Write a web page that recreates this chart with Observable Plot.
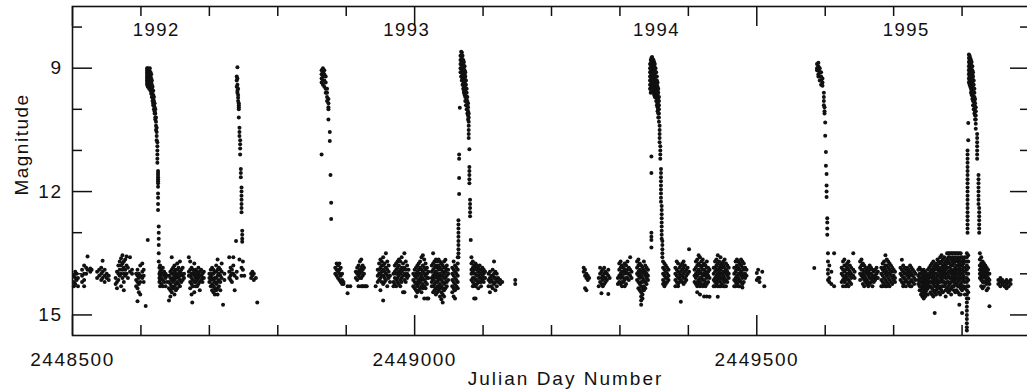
<!DOCTYPE html>
<html><head><meta charset="utf-8">
<script src="https://cdn.jsdelivr.net/npm/d3@7"></script>
<script src="https://cdn.jsdelivr.net/npm/@observablehq/plot@0.6"></script>
<style>
html,body{margin:0;padding:0;background:#fff;overflow:hidden}
#chart svg{display:block}
</style></head><body><div id="chart"></div>
<script>
// Julian Day offset: each row is [JD - JD0, magnitude, magnitude, ...]
const JD0 = 2448500;

const season1 = [
[2,14.05,14.2,14.3],[4,13.95,14.1,14.25],[6,14.0,14.15],[8,14.3,14.1],
[14,13.9,14.05,14.2],[17,13.8,14.0,14.15,14.3],[20,13.85,14.0],[22,13.58,13.9],[26,13.87,13.95],[28,13.9],
[36,13.95,14.1],[39,13.9,14.05],[42,13.85,14.0,14.15],[44,13.68,13.95,14.1],[47,13.9,14.05,14.2],[50,14.0,14.1],[53,14.05,14.15],
[63,14.1,14.25],[65,13.95,14.2,14.35],[67,13.8,14.0,14.15],[69,13.7,13.9,14.05],[71,13.62,13.8,14.0,14.3],
[73,13.55,13.75,13.9,14.1],[75,13.7,13.85,14.0,14.2,14.4],[77,13.65,13.9,14.05],[79,13.58,13.8,14.0],[81,13.85,14.1],[84,13.6,13.95],[87,13.9,14.0],
[93,14.0,14.15,14.3],[95,13.9,14.05,14.2,14.35,14.67],[97,14.0,14.1,14.25,14.45],[99,13.8,14.05,14.2,14.5],[102,13.75,13.95,14.1],[104,13.9,14.05,14.2],[107,14.78],[110,13.18],
[109,9.0,9.05,9.1,9.15,9.2,9.25,9.3,9.35,9.4],[110,9.0,9.08,9.15,9.22,9.3,9.38,9.45],[111,9.02,9.1,9.18,9.25,9.33,9.4],
[112,9.05,9.12,9.2,9.28,9.35,9.42,9.5],[113,9.0,9.1,9.2,9.3,9.4,9.48],[114,9.1,9.2,9.3,9.4,9.5,9.55],
[115,9.15,9.25,9.35,9.45,9.55,9.62],[116,9.3,9.4,9.5,9.6,9.7],[117,9.45,9.55,9.65,9.72,9.8],[118,9.55,9.65,9.75,9.85,9.9],
[119,9.7,9.8,9.9,10.0],[120,9.85,9.95,10.05,10.1],[121,10.0,10.1,10.2,10.25],[122,10.2,10.3,10.4,10.5],[123,10.45,10.55,10.65,10.75],
[124,10.8,10.9,11.0,11.1,11.2,11.3],[125,11.5,11.55,11.6,11.65,11.7,11.75,11.8,11.88,12.05,12.15,12.3,12.45],[126,12.85,13.0,13.15,13.3,13.5,13.7],
[127,13.85,14.0,14.1,14.2],[128,13.8,13.95,14.05,14.15,14.3],[130,13.9,14.0,14.1,14.25],[132,13.85,14.0,14.15,14.3],[134,13.95,14.05,14.2],[136,14.0,14.1,14.3],[138,14.05,14.2],
[141,14.05,14.2,14.35,14.65],[143,13.95,14.1,14.25,14.4,14.55],[145,13.6,13.9,14.0,14.15,14.3,14.45],[147,13.85,14.0,14.1,14.2,14.35],
[149,13.8,13.95,14.05,14.15,14.3,14.5],[151,13.9,14.0,14.1,14.25,14.4],[153,13.75,13.9,14.05,14.2,14.35],[155,13.85,14.0,14.1,14.25],
[157,13.7,13.95,14.05,14.15,14.3],[159,13.9,14.0,14.2],[161,13.85,14.05,14.15],[163,14.0,14.1],
[170,13.6,13.95,14.05],[172,13.7,13.9,14.05,14.2,14.35],[174,13.85,14.0,14.1,14.25,14.5],[175,14.7],[176,13.9,14.0,14.15,14.3],
[178,13.75,13.95,14.05,14.2,14.45],[180,13.9,14.0,14.1,14.2,14.3],[182,13.95,14.05,14.15,14.3],[184,13.85,14.0,14.1,14.25],
[186,13.95,14.05,14.2,14.4],[188,13.9,14.05,14.15],[190,14.0,14.1,14.2],[192,13.95,14.1],
[200,14.0,14.1,14.2],[202,13.9,14.05,14.15,14.3],[204,13.85,14.0,14.1,14.25,14.4],[206,13.9,14.0,14.15,14.3,14.45],
[208,13.95,14.1,14.2,14.35,14.5],[210,13.8,13.95,14.1,14.25,14.4],[212,13.65,13.9,14.05,14.2,14.35,14.5],[214,13.85,14.0,14.15,14.3],
[216,13.9,14.05,14.2,14.4],[218,13.75,13.95,14.1],[220,14.75],[222,14.0,14.15],
[229,13.6,13.95,14.1],[231,13.85,14.05,14.15],[233,13.9,14.0,14.2],[235,13.6,13.8,14.0],[237,14.05,14.4],[239,13.2],
[240,9.2,9.3,9.45,13.95,14.1],[241,8.98,9.25,9.4,9.55,9.6],[242,9.5,9.65,9.72,9.8],[243,9.85,9.9,9.95,10.0,10.2],
[244,10.45,10.55,10.65,13.65],[245,10.75,10.85,10.95,11.1],[246,11.45,11.55,11.65],[247,11.9,12.0,12.1,12.2,12.3,12.4,12.5,13.85,14.05],
[248,12.95,13.05,13.15,13.22],[249,13.7,13.9],[251,14.05],
[261,14.0,14.1],[263,13.95,14.05],[265,14.0,14.15],[268,14.1],[270,14.7]
];

const season2 = [
[364,9.05,9.15,9.25,9.35,11.1],[366,9.0,9.1,9.2,9.3,9.4],[368,9.05,9.15,9.3,9.45],[370,9.2,9.35,9.5,9.6],
[372,9.5,9.6,9.7,9.8],[374,9.75,9.85,9.95,10.0,10.25],[376,10.55,10.77],[377,11.6],[378,12.27,12.67],
[384,13.85,14.0],[386,13.75,13.9,14.05],[388,13.8,13.95,14.1],[390,13.75,13.9,14.0,14.15],[392,13.85,14.05,14.2],
[394,14.0,14.15,14.25],[396,14.2,14.25],[402,14.3,14.47],[406,14.3],
[414,13.95,14.1],[416,13.85,14.0,14.15],[418,13.8,13.95,14.05,14.3],[420,13.7,13.9,14.0,14.1],[422,13.65,13.85,13.95,14.1,14.3],
[424,13.8,13.9,14.05,14.3],[426,13.85,14.0,14.3],[428,14.3],[430,14.3],
[443,14.3],[446,13.9,14.05,14.2],[448,13.75,13.9,14.0,14.15],[450,13.65,13.85,14.0,14.1,14.4],[452,13.7,13.8,13.95,14.05,14.2],
[454,13.6,13.8,13.9,14.05,14.25,14.65],[456,13.75,13.95,14.1,14.2],[458,13.5,13.85,14.0,14.15],[460,13.7,13.9,14.05,14.3],
[462,13.8,13.95,14.1],[464,14.05,14.2],
[469,14.0,14.2,14.3],[471,13.8,13.95,14.1,14.25],[473,13.75,13.9,14.0,14.15,14.3],[475,13.7,13.85,14.0,14.1,14.2],
[477,13.65,13.8,13.95,14.05,14.25],[479,13.7,13.9,14.0,14.15,14.3],[481,13.6,13.85,13.95,14.1,14.2],[483,13.75,13.9,14.05,14.45],
[485,13.5,13.85,14.0,14.15,14.45],[487,13.7,13.9,14.05,14.2],[489,13.8,14.0,14.1],[491,13.9,14.05],
[498,14.0,14.15,14.3],[500,13.9,14.05,14.2,14.35],[502,13.85,14.0,14.1,14.25,14.4,14.55],[504,13.8,13.95,14.05,14.2,14.3,14.45],
[506,13.75,13.9,14.0,14.15,14.25,14.4],[508,13.7,13.85,14.0,14.1,14.2,14.35],[510,13.6,13.9,14.05,14.15,14.3,14.45],
[512,13.55,13.8,13.95,14.1,14.25,14.35],[514,13.65,13.85,14.0,14.15,14.3,14.6],[516,13.75,13.9,14.05,14.2,14.35],
[518,13.85,14.0,14.1,14.25,14.6],[520,13.95,14.1,14.6],
[525,13.8,13.95,14.1,14.2,14.3],[527,13.5,13.75,13.9,14.05,14.15,14.3,14.45],[529,13.7,13.85,14.0,14.1,14.25,14.4],
[531,13.65,13.8,13.95,14.05,14.2,14.35,14.5],[533,13.7,13.85,14.0,14.1,14.2,14.3,14.45],[535,13.65,13.8,13.9,14.05,14.15,14.3,14.4],
[537,13.7,13.85,14.0,14.1,14.25,14.35,14.55],[539,13.75,13.9,14.05,14.15,14.3,14.45,14.62],[541,13.8,13.95,14.05,14.2,14.35,14.5,14.7],
[543,13.7,13.85,14.0,14.1,14.25,14.4,14.55],[545,13.66,13.85,13.95,14.1,14.2,14.35],[547,13.8,13.9,14.05,14.2,14.3],[549,13.9,14.0,14.15],
[555,13.85,14.0,14.15,14.3,14.45],[557,13.7,13.9,14.05,14.2,14.35,14.55],[559,13.8,13.95,14.1,14.25,14.4,14.6],
[561,13.85,14.0,14.15,14.3],[563,13.6,13.75,13.9,14.05,14.2,14.35],
[564,12.7,12.8,12.9,13.0,13.1,13.2,13.3,13.4,13.5,13.6],[565,11.1,11.2,11.67,12.06],[566,9.96],
[567,8.7,8.8,8.9,9.0,9.1],[568,8.6,8.7,8.8,8.9,9.0,9.1,9.2],[569,8.62,8.72,8.82,8.92,9.02,9.12,9.22,9.3],
[570,8.7,8.8,8.9,9.0,9.1,9.2,9.3,9.4],[571,8.8,8.9,9.0,9.1,9.2,9.3,9.4,9.5],[572,8.85,8.95,9.05,9.15,9.25,9.35,9.45,9.55,9.6],
[573,8.95,9.05,9.15,9.25,9.35,9.45,9.55,9.65],[574,9.1,9.2,9.3,9.4,9.5,9.6,9.7,9.8],[575,9.3,9.4,9.5,9.6,9.7,9.8,9.9],
[576,9.5,9.6,9.7,9.8,9.9,10.0],[577,9.7,9.8,9.9,10.0,10.1],[578,9.85,9.95,10.05,10.15,10.25],[579,10.1,10.2,10.3,10.4,10.5,10.6,10.7],
[580,10.97,11.4,11.5,11.6,11.7,11.8],[581,12.2,12.3,12.4,12.5,12.6],[582,13.18],
[583,13.6,13.75,13.9,14.0,14.15],[585,13.7,13.85,13.95,14.1,14.2,14.3],[587,13.8,13.9,14.0,14.1,14.25,14.6],
[589,13.75,13.85,14.0,14.15,14.3,14.6],[591,13.8,13.9,14.05,14.15,14.25],[593,13.85,13.95,14.05,14.2,14.35],
[595,13.8,13.9,14.0,14.1,14.2],[597,13.9,14.0,14.1,14.2,14.3],[599,13.85,13.95,14.05,14.15],[601,13.9,14.0,14.1,14.2],[603,13.95,14.1],
[608,14.0,14.15,14.3],[610,13.95,14.1,14.2,14.45],[612,14.05,14.15,14.3],[614,13.9,14.05,14.2,14.35],[616,13.7,14.0,14.1,14.25],
[618,13.95,14.1,14.2,14.4],[620,14.0,14.15,14.3],[622,14.1,14.2],[625,14.15,14.25],[628,14.2],
[647,14.15,14.25]
];

const season3 = [
[747,13.85,13.95],[749,13.9,14.05,14.35],[751,14.0,14.1,14.4],[753,14.05,14.15],[755,14.1],
[769,14.1,14.3],[771,13.85,14.0,14.2],[773,13.95,14.1,14.25,14.47],[775,13.9,14.05,14.15,14.3],[777,13.85,14.0,14.1,14.25],
[779,13.95,14.1,14.2],[781,14.0,14.15],[783,13.9,14.05,14.49],[785,14.1],
[797,14.1,14.25],[799,13.75,13.9,14.05,14.2],[801,13.7,13.85,14.0,14.1,14.25],[803,13.8,13.95,14.05,14.2,14.3],
[805,13.85,13.95,14.1,14.2],[807,13.75,13.9,14.0,14.15,14.3],[809,13.8,13.95,14.1,14.25],[811,13.7,13.9,14.0,14.1],
[813,13.85,14.0,14.15],[815,13.6,13.9,14.05],[817,13.95,14.1],
[825,13.7,13.85,14.0,14.15],[827,13.65,13.8,13.95,14.05,14.2,14.35],[829,13.75,13.9,14.0,14.1,14.25,14.4],
[831,13.8,13.95,14.05,14.2,14.3,14.45,14.55,14.65,14.75],[833,13.85,13.95,14.1,14.2,14.35,14.5,14.6],[835,13.7,13.9,14.0,14.15,14.3,14.4],
[837,13.8,13.95,14.05,14.2,14.35],[839,13.85,14.0,14.1,14.25],[841,13.9,14.05,14.15],
[844,8.9,9.0,9.1,9.2,9.3,9.4,9.5],[845,8.8,8.9,9.0,9.1,9.2,9.3,9.4,9.5,9.6],[846,8.75,8.85,8.95,9.05,9.15,9.25,9.35,9.45,9.55],
[846,11.15,11.55,13.0,13.1,13.18,13.36],
[847,8.73,8.83,8.93,9.03,9.13,9.23,9.33,9.43,9.53],[848,8.78,8.88,8.98,9.08,9.18,9.28,9.38,9.48,9.58],
[849,8.8,8.9,9.0,9.1,9.2,9.3,9.4,9.5,9.6],[850,8.85,8.95,9.05,9.15,9.25,9.35,9.45,9.55,9.65],
[851,8.9,9.0,9.1,9.2,9.3,9.4,9.5,9.6,9.7],[852,9.0,9.1,9.2,9.3,9.4,9.5,9.6,9.7],[853,9.1,9.2,9.3,9.4,9.5,9.6,9.7,9.8],
[854,9.2,9.3,9.4,9.5,9.6,9.7,9.8,9.9],[855,9.35,9.45,9.55,9.65,9.75,9.85,9.95,10.05],[856,9.5,9.6,9.7,9.8,9.9,10.0,10.1,10.2],
[857,9.7,9.8,9.9,10.0,10.1,10.2,10.3],[858,10.4,10.5,10.6,10.7,10.8],[859,10.9,11.0,11.1,11.2],
[860,11.45,11.55,11.65,11.75,11.85,11.95,12.05,12.15,12.25],[861,12.35,12.45,12.55,12.65,12.75,12.85,12.95,13.05,13.15],[862,13.2,13.3,13.4,13.5,13.6],
[863,13.7,13.85,14.0,14.15,14.25],[865,13.75,13.9,14.05,14.2,14.3],[867,13.8,13.95,14.1,14.25],[869,13.85,14.0,14.1,14.2],[871,13.9,14.05,14.15],
[881,13.85,14.0,14.15,14.3],[883,13.7,13.9,14.05,14.2],[885,13.75,13.95,14.1,14.25,14.3],[887,13.85,14.0,14.1,14.2],
[889,13.8,13.95,14.05,14.15,14.68],[891,13.75,13.9,14.05,14.2],[893,13.7,13.85,14.0,14.1,14.25],[895,13.8,13.95,14.1,14.2],
[897,13.9,14.05,14.15],[899,13.85,14.0],[901,13.4,13.95],
[909,13.9,14.05,14.2],[911,13.7,13.85,14.0,14.1,14.25],[913,13.65,13.8,13.95,14.05,14.2,14.3,14.45],[915,13.55,13.75,13.9,14.0,14.15,14.25],
[917,13.6,13.8,13.95,14.1,14.2,14.3,14.5],[919,13.7,13.85,14.0,14.1,14.25],[921,13.65,13.8,13.9,14.05,14.15,14.3],
[923,13.75,13.9,14.0,14.15,14.25,14.55],[925,13.8,13.95,14.05,14.2,14.3],[927,13.7,13.85,14.0,14.1,14.25,14.55],
[929,13.85,13.95,14.05,14.2],[931,13.9,14.1,14.56],
[937,13.85,14.0,14.15,14.3],[939,13.7,13.85,13.95,14.1,14.2,14.3],[941,13.65,13.8,13.9,14.05,14.15,14.25],
[943,13.55,13.75,13.9,14.0,14.1,14.2,14.3,14.56],[945,13.7,13.85,13.95,14.05,14.15,14.3],[947,13.6,13.8,13.9,14.0,14.1,14.2,14.3],
[949,13.75,13.85,14.0,14.1,14.25],[951,13.7,13.8,13.95,14.05,14.15,14.3],[953,13.65,13.85,13.95,14.1,14.2,14.3],
[955,13.75,13.9,14.0,14.15,14.3],[957,13.8,13.95,14.05,14.2],[959,13.85,14.0,14.1],
[967,13.85,14.0,14.15,14.3],[969,13.7,13.85,13.95,14.1,14.2,14.3],[971,13.65,13.8,13.9,14.05,14.15,14.25],
[973,13.7,13.85,14.0,14.1,14.2,14.3],[975,13.75,13.9,14.0,14.15,14.3],[977,13.65,13.8,13.95,14.05,14.2],
[979,13.7,13.85,14.0,14.1,14.25,14.33],[981,13.75,13.9,14.05,14.2],[983,13.85,14.0,14.1],[985,13.9,14.05],
[1000,13.98,14.15],[1002,13.9,14.1],[1004,14.1,14.2],[1008,13.95],[1011,14.3]
];

const season4 = [
[1084,13.86],
[1088,8.9,9.0,9.05],[1090,8.87,8.95,9.05,9.15,9.2],[1092,9.0,9.1,9.2,9.3],[1094,9.1,9.2,9.3,9.4],[1096,9.25,9.35,9.43],
[1098,9.6,9.7,9.8,9.9],[1099,9.95,10.05,10.1],[1100,10.32,10.64],[1101,11.04,11.37],[1102,11.57,11.85,12.0,12.13],[1103,12.65,12.75,12.9,13.05],
[1104,13.5,13.7,13.9,14.0,14.15],[1106,13.8,14.1,14.2],[1109,13.95,14.25],[1113,13.5,14.3],
[1124,13.85,14.0,14.2],[1126,13.7,13.9,14.05,14.15,14.3],[1128,13.65,13.8,13.95,14.1,14.2],[1130,13.8,13.9,14.05,14.15,14.3],
[1132,13.75,13.85,14.0,14.1,14.25],[1134,13.7,13.9,14.0,14.15,14.3],[1136,13.8,13.95,14.05,14.2],[1138,13.85,14.0,14.1,14.25],
[1141,13.5,13.9,14.05],[1143,13.95,14.1],
[1151,13.7,13.85,14.0,14.15],[1153,13.65,13.8,13.9,14.05],[1155,13.75,13.9,14.0,14.1,14.25],[1157,13.8,13.95,14.05,14.15,14.3],
[1159,13.85,13.95,14.1,14.2],[1161,13.9,14.0,14.15,14.25],[1163,13.85,13.95,14.05,14.2,14.3],[1165,13.8,13.9,14.0,14.1,14.25],
[1167,13.85,14.0,14.1,14.2],[1169,13.9,14.05,14.15,14.3],[1171,13.95,14.1,14.2],[1173,13.9,14.05,14.15],[1175,13.85,14.0,14.1],[1177,13.95,14.1],
[1182,13.85,14.0,14.15,14.3],[1184,13.75,13.9,14.05,14.2,14.3],[1186,13.7,13.85,13.95,14.1,14.25],[1188,13.55,13.8,13.9,14.0,14.15,14.3],
[1190,13.65,13.8,13.95,14.05,14.2,14.3],[1192,13.7,13.85,14.0,14.1,14.25],[1194,13.75,13.9,14.0,14.15,14.3],[1196,13.8,13.95,14.05,14.2],
[1198,13.85,13.95,14.1,14.25],[1200,13.9,14.05,14.15],[1202,13.95,14.1,14.2],
[1210,13.85,14.0,14.15],[1212,13.66,13.9,14.05,14.2],[1214,13.8,13.95,14.1,14.25,14.3],[1216,13.85,14.0,14.1,14.2],
[1218,13.9,14.0,14.15,14.3],[1220,13.85,13.95,14.05,14.2],[1222,13.9,14.0,14.1,14.25],[1224,13.8,13.95,14.05,14.2,14.3],
[1226,13.85,14.0,14.15,14.3],[1228,13.9,14.05,14.2],[1230,13.95,14.1,14.25],[1232,14.0,14.15],
[1236,13.9,14.05,14.15,14.25],[1238,13.85,14.0,14.1,14.2,14.3,14.4],[1240,13.9,14.0,14.1,14.2,14.3,14.4,14.5],
[1242,13.95,14.05,14.15,14.25,14.35,14.45,14.55],[1244,13.9,14.0,14.1,14.2,14.3,14.4,14.5,14.6],[1246,13.95,14.05,14.15,14.25,14.35,14.45,14.55],
[1248,14.0,14.1,14.2,14.3,14.4,14.5],[1250,13.9,14.05,14.15,14.25,14.35,14.5],[1252,13.85,14.0,14.1,14.2,14.3],[1254,13.8,13.95,14.05,14.2,14.3,14.45],
[1256,13.75,13.9,14.0,14.1,14.2,14.35,14.5],[1258,13.7,13.85,13.95,14.05,14.15,14.25,14.4,14.55],[1260,13.8,13.9,14.0,14.1,14.2,14.3,14.45,14.95],
[1262,13.75,13.85,14.0,14.1,14.2,14.3,14.4,14.5],[1264,13.65,13.8,13.9,14.05,14.15,14.25,14.35],[1266,13.7,13.85,13.95,14.05,14.2,14.3,14.45],
[1268,13.6,13.75,13.9,14.0,14.1,14.2,14.35,14.5],[1270,13.55,13.7,13.85,13.95,14.05,14.15,14.3,14.4],[1272,13.65,13.8,13.9,14.0,14.1,14.2,14.3,14.45],
[1274,13.6,13.75,13.85,13.95,14.05,14.2,14.3],[1276,13.7,13.8,13.9,14.0,14.1,14.25,14.4,14.55],[1278,13.5,13.65,13.75,13.85,14.0,14.1,14.2,14.35],
[1280,13.5,13.6,13.7,13.85,13.95,14.05,14.2,14.3,14.45],[1282,13.5,13.6,13.75,13.85,13.95,14.1,14.25,14.4],
[1284,13.5,13.65,13.8,13.9,14.0,14.1,14.2,14.35,14.5],[1286,13.5,13.6,13.7,13.8,13.95,14.05,14.15,14.3],
[1288,13.5,13.65,13.75,13.9,14.0,14.1,14.2,14.3,14.4],[1290,13.5,13.6,13.7,13.85,13.95,14.05,14.15,14.25,14.45],
[1292,13.5,13.65,13.8,13.9,14.0,14.1,14.25,14.4],[1294,13.5,13.6,13.7,13.8,13.9,14.0,14.1,14.2,14.3,14.45],
[1296,13.5,13.65,13.75,13.85,13.95,14.05,14.15,14.3,14.5,14.75],[1298,13.5,13.6,13.7,13.8,13.9,14.0,14.1,14.25,14.35,14.5],
[1300,13.6,13.7,13.8,13.9,14.0,14.1,14.2,14.3,14.4,14.95],[1302,13.65,13.75,13.85,13.95,14.05,14.15,14.3],[1304,13.6,13.7,13.85,13.95,14.1,14.2,14.35,14.5],
[1307,13.5,13.6,13.7,13.8,13.9,14.0,14.1,14.2,14.3,14.4,14.5,14.6,14.7,14.8,14.9,15.0,15.1,15.2,15.3,15.38],
[1308,11.0,11.1,11.2,11.3,11.4,11.5,11.6,11.7,11.8,11.9,12.0,12.1,12.2,12.3,12.4,12.5,12.6,12.7,12.8,12.9,13.0],
[1309,10.33,10.75,13.55,13.7,13.85,14.0,14.15,14.3,14.45,14.6],
[1310,8.67,8.75,8.85,8.95,9.05,9.15,9.25,9.35],[1311,8.7,8.8,8.9,9.0,9.1,9.2,9.3,9.4],[1312,8.75,8.85,8.95,9.05,9.15,9.25,9.35,9.45],
[1313,8.8,8.9,9.0,9.1,9.2,9.3,9.4,9.5,9.6],[1314,8.85,8.95,9.05,9.15,9.25,9.35,9.45,9.55,9.65],[1315,8.95,9.05,9.15,9.25,9.35,9.45,9.55,9.65,9.75],
[1316,9.1,9.2,9.3,9.4,9.5,9.6,9.7,9.8,9.9],[1317,9.3,9.4,9.5,9.6,9.7,9.8,9.9,10.0],[1318,9.5,9.6,9.7,9.8,9.9,10.0,10.1],
[1319,9.75,9.85,9.95,10.05,10.15,10.25],[1320,9.95,10.05,10.15,10.25,10.35,10.47],[1322,10.6,10.7,10.8,10.9,11.0,11.1,11.2],
[1324,11.6,11.7,11.8,11.9,12.0,12.1,12.2,12.3],[1325,12.4,12.5,12.6,12.7,12.8,12.9,13.0],
[1326,13.5,13.65,13.8,13.9,14.0,14.1],[1328,13.6,13.75,13.85,13.95,14.05,14.15,14.3],[1330,13.7,13.8,13.9,14.0,14.1,14.2,14.35],
[1332,13.75,13.85,13.95,14.05,14.2,14.3],[1334,13.8,13.9,14.0,14.1,14.2],[1336,13.85,13.95,14.05,14.15,14.25,14.4],
[1338,13.9,14.0,14.1,14.2,14.35],[1340,14.0,14.15,14.25,14.79],
[1353,14.15,14.25],[1356,14.1,14.2,14.3],[1359,14.15,14.25],[1362,14.2,14.3],[1365,14.15,14.25,14.35],[1368,14.2,14.3],[1371,14.15,14.25]
];

const yearLabels = ["1992", "1993", "1994", "1995"];
const yearJD = [2448622.5, 2448988.5, 2449353.5, 2449718.5];
const xLabelTicks = [2448500, 2449000, 2449500];
const xMinorTicks = [2448600, 2448700, 2448800, 2448900, 2449100, 2449200, 2449300, 2449400, 2449600, 2449700, 2449800];
const yLabelTicks = [9, 12, 15];
const yMinorTicks = [8, 10, 11, 13, 14];
const xTitle = "Julian Day Number";
const yTitle = "Magnitude";

const points = [season1, season2, season3, season4].flat()
  .flatMap(([d, ...ms]) => ms.map(m => ({jd: JD0 + d, mag: m})));

const W = 1027, H = 391, mL = 72, mR = -3, mT = 6, mB = 56;
const fw = W - mL - mR, fh = H - mT - mB;
const major = 20, minor = 10;
const ink = "#111";

const chart = Plot.plot({
  width: W, height: H,
  marginLeft: mL, marginRight: mR, marginTop: mT, marginBottom: mB,
  style: {fontFamily: "'Liberation Sans', Arial, Helvetica, sans-serif", fontSize: "19px", color: ink, background: "#fff"},
  x: {domain: [2448500, 2449900], axis: null},
  y: {domain: [7.5, 15.5], reverse: true, axis: null},
  marks: [
    Plot.dot(points, {x: "jd", y: "mag", r: 2.0, fill: ink}),
    Plot.tickX(xLabelTicks, {x: d => d, insetTop: fh - major, stroke: ink, strokeWidth: 1.5}),
    Plot.tickX(xMinorTicks, {x: d => d, insetTop: fh - minor, stroke: ink, strokeWidth: 1.5}),
    Plot.tickX(xLabelTicks, {x: d => d, insetBottom: fh - major, stroke: ink, strokeWidth: 1.5}),
    Plot.tickX(xMinorTicks, {x: d => d, insetBottom: fh - minor, stroke: ink, strokeWidth: 1.5}),
    Plot.tickY(yLabelTicks, {y: d => d, insetRight: fw - major, stroke: ink, strokeWidth: 1.5}),
    Plot.tickY(yMinorTicks, {y: d => d, insetRight: fw - minor, stroke: ink, strokeWidth: 1.5}),
    Plot.tickY(yLabelTicks, {y: d => d, insetLeft: fw - major, stroke: ink, strokeWidth: 1.5}),
    Plot.tickY(yMinorTicks, {y: d => d, insetLeft: fw - minor, stroke: ink, strokeWidth: 1.5}),
    Plot.frame({stroke: ink, strokeWidth: 1.6}),
    Plot.text(xLabelTicks, {x: d => d, text: d => String(d), frameAnchor: "bottom", lineAnchor: "top", dy: 16.5, fontSize: 19, fill: ink}),
    Plot.text(yLabelTicks, {y: d => d, text: d => String(d), frameAnchor: "left", textAnchor: "end", dx: -10, fontSize: 19, fill: ink}),
    Plot.text(yearLabels, {x: (d, i) => yearJD[i], text: d => d, frameAnchor: "top", lineAnchor: "top", dy: 16.5, fontSize: 18.5, fill: ink}),
    Plot.text([xTitle], {text: d => d, frameAnchor: "bottom", lineAnchor: "bottom", dx: 14, dy: 49, fontSize: 19, fill: ink}),
    Plot.text([yTitle], {text: d => d, frameAnchor: "top-left", textAnchor: "middle", rotate: -90, lineAnchor: "bottom", dx: -45, dy: 138, fontSize: 19, fill: ink})
  ]
});
d3.select(chart).selectAll("text").style("letter-spacing", "1.5px");
d3.select(chart).selectAll("text").filter(function() { return this.textContent === xTitle; }).style("letter-spacing", "2px");
document.getElementById("chart").appendChild(chart);
</script></body></html>
